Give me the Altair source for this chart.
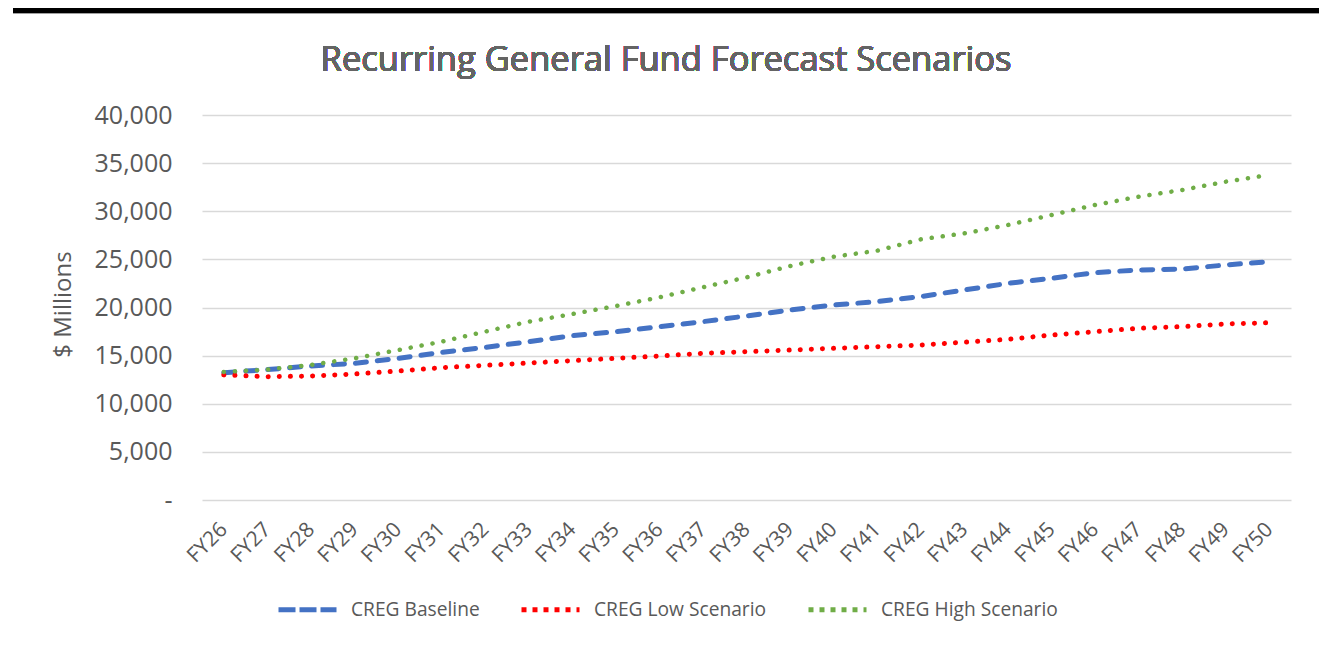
import altair as alt
import pandas as pd

years = ["FY26", "FY27", "FY28", "FY29", "FY30", "FY31", "FY32", "FY33", "FY34", "FY35",
         "FY36", "FY37", "FY38", "FY39", "FY40", "FY41", "FY42", "FY43", "FY44", "FY45",
         "FY46", "FY47", "FY48", "FY49", "FY50"]
baseline = [13230, 13550, 13920, 14200, 14720, 15340, 15860, 16450, 17070, 17490,
            18010, 18530, 19120, 19740, 20260, 20610, 21130, 21820, 22510, 23030,
            23620, 23900, 24000, 24420, 24760]
low = [13000, 12810, 12880, 13090, 13400, 13750, 13990, 14230, 14480, 14720,
       14960, 15240, 15410, 15580, 15760, 15930, 16100, 16400, 16690, 17140,
       17490, 17840, 18010, 18290, 18420]
high = [13300, 13550, 14030, 14720, 15580, 16450, 17490, 18530, 19320, 20150,
        21060, 22100, 23130, 24310, 25280, 25900, 27080, 27700, 28570, 29610,
        30650, 31510, 32210, 33070, 33770]
series_names = ["CREG Baseline", "CREG Low Scenario", "CREG High Scenario"]
series_colors = ["#4472C4", "#FF0000", "#70AD47"]
title_text = "Recurring General Fund Forecast Scenarios"
y_title = "$ Millions"

rows = []
for name, vals in zip(series_names, [baseline, low, high]):
    for i, (yr, v) in enumerate(zip(years, vals)):
        rows.append({"year": yr, "value": v, "series": name, "order": i})
df = pd.DataFrame(rows)

FONT = "Open Sans"
GREY = "#595959"
PLOT_X, PLOT_Y = 202, 115
W, H = 1089, 385

x_enc = alt.X("year:O", sort=years, title=None,
              axis=alt.Axis(labelAngle=-45, labelAlign="right", labelBaseline="middle",
                            labelPadding=26, labelFont=FONT, labelFontSize=21,
                            labelColor=GREY, ticks=False, domain=False, grid=False))
y_enc = alt.Y("value:Q", scale=alt.Scale(domain=[0, 40000], nice=False),
              title=y_title,
              axis=alt.Axis(values=list(range(0, 40001, 5000)),
                            labelExpr="datum.value == 0 ? '-\u00a0\u00a0\u00a0' : format(datum.value, ',')",
                            labelFont=FONT, labelFontSize=25, labelColor=GREY,
                            labelPadding=30, ticks=False, domain=False,
                            grid=True, gridColor="#D9D9D9", gridWidth=1.5,
                            titleFont=FONT, titleFontSize=24, titleColor=GREY,
                            titleFontWeight="normal", titleAngle=-90,
                            titleX=63 - PLOT_X, titleY=304 - PLOT_Y,
                            titleAlign="center", titleBaseline="middle"))

base = alt.Chart(df)

dash_map = {"CREG Baseline": [11, 11], "CREG Low Scenario": [0.1, 11], "CREG High Scenario": [0.1, 11]}
width_map = {"CREG Baseline": 5, "CREG Low Scenario": 5, "CREG High Scenario": 4.5}

line_layers = []
for name, col in zip(series_names, series_colors):
    line_layers.append(
        base.transform_filter(alt.datum.series == name)
        .mark_line(color=col, strokeDash=dash_map[name], strokeCap="round",
                   strokeWidth=width_map[name])
        .encode(x=x_enc, y=y_enc, order="order:Q")
    )

legend_def = alt.Legend(orient="none", legendX=74, legendY=607 - 29 - PLOT_Y,
                        direction="horizontal",
                        title=None, symbolType="stroke", symbolSize=3364,
                        symbolStrokeWidth=5, symbolOpacity=1,
                        labelFont=FONT, labelFontSize=19.2, labelColor=GREY,
                        labelLimit=400, labelOffset=12, columnPadding=31)
legend_layer = base.mark_line(opacity=0).encode(
    x=x_enc, y=y_enc,
    color=alt.Color("series:N", sort=series_names,
                    scale=alt.Scale(domain=series_names, range=series_colors),
                    legend=legend_def),
    strokeDash=alt.StrokeDash("series:N", sort=series_names,
                              scale=alt.Scale(domain=series_names,
                                              range=[[17, 4], [5, 6], [5, 6]]),
                              legend=legend_def),
)

bar = alt.Chart(df).mark_rule(color="black", strokeWidth=5).encode(
    x=alt.value(13 - PLOT_X), x2=alt.value(1327 - PLOT_X), y=alt.value(10.5 - PLOT_Y))
bar2 = alt.Chart(df).mark_rule(color="#A0A0A0", strokeWidth=1).encode(
    x=alt.value(13 - PLOT_X), x2=alt.value(1327 - PLOT_X), y=alt.value(13.5 - PLOT_Y))

title = alt.Chart(df).mark_text(text=title_text, font=FONT, fontSize=34.5, color="#646464",
                                 fontWeight="normal",
                                 align="center", baseline="alphabetic").encode(
    x=alt.value(666 - PLOT_X), y=alt.value(71 - PLOT_Y))

chart = alt.layer(legend_layer, *line_layers, bar, bar2, title).properties(
    width=W, height=H,
    background="white",
    autosize=alt.AutoSizeParams(type="none"),
    padding={"left": PLOT_X - 8, "top": PLOT_Y - 8, "right": 1327 - 8 - PLOT_X - W, "bottom": 140},
).configure_view(stroke=None)

chart.save("out.html", embed_options={"renderer": "svg", "actions": False})
